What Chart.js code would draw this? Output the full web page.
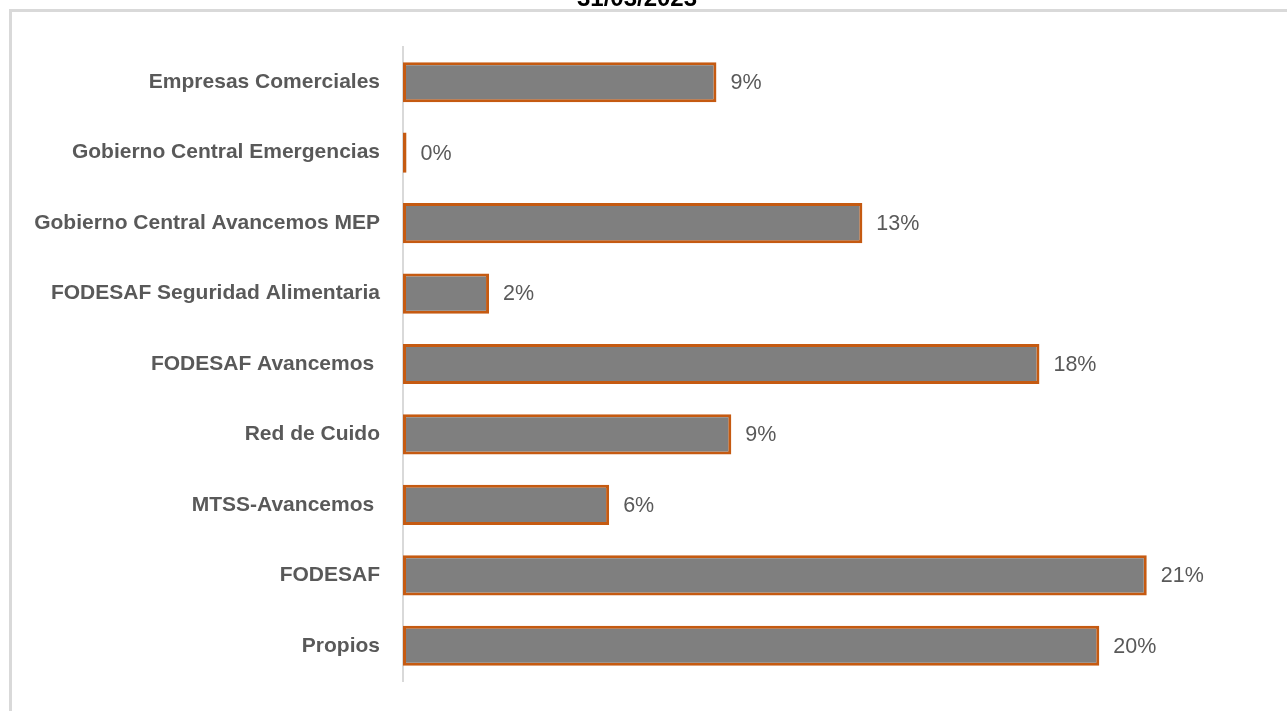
<!DOCTYPE html>
<html>
<head>
<meta charset="utf-8">
<script src="https://cdn.jsdelivr.net/npm/chart.js@4"></script>
<style>
html,body{margin:0;padding:0;background:#fff;overflow:hidden}
#wrap{width:1287px;height:711px;position:relative}
</style>
</head>
<body>
<div id="wrap"><canvas id="c"></canvas></div>
<script>
const titleText = '31/03/2023';
const categories = [
  'Empresas Comerciales',
  'Gobierno Central Emergencias',
  'Gobierno Central Avancemos MEP',
  'FODESAF Seguridad Alimentaria',
  'FODESAF Avancemos ',
  'Red de Cuido',
  'MTSS-Avancemos ',
  'FODESAF',
  'Propios'
];
const values = [8.85, 0.1, 12.97, 2.43, 17.97, 9.27, 5.82, 21.0, 19.66];
const valueLabels = ['9%', '0%', '13%', '2%', '18%', '9%', '6%', '21%', '20%'];
const axisMax = 24;

const LABEL_FONT = '"Liberation Sans", Arial, sans-serif';

const framePlugin = {
  id: 'frame',
  beforeDraw(chart) {
    const ctx = chart.ctx;
    ctx.save();
    ctx.fillStyle = '#fff';
    ctx.fillRect(0, 0, chart.width, chart.height);
    ctx.strokeStyle = '#D9D9D9';
    ctx.lineWidth = 3;
    ctx.beginPath();
    ctx.moveTo(10.5, chart.height);
    ctx.lineTo(10.5, 10.5);
    ctx.lineTo(chart.width, 10.5);
    ctx.stroke();
    ctx.fillStyle = '#000';
    ctx.font = 'bold 24px "Liberation Sans", Arial, sans-serif';
    ctx.textAlign = 'center';
    ctx.textBaseline = 'alphabetic';
    ctx.fillText(titleText, 637, 6);
    ctx.restore();
  }
};

const valueLabelPlugin = {
  id: 'valueLabels',
  afterDatasetsDraw(chart) {
    const ctx = chart.ctx;
    const meta = chart.getDatasetMeta(0);
    ctx.save();
    ctx.fillStyle = '#595959';
    ctx.font = '21.5px ' + LABEL_FONT;
    ctx.textAlign = 'left';
    ctx.textBaseline = 'middle';
    meta.data.forEach((el, i) => {
      ctx.fillText(valueLabels[i], el.x + 14, el.y + 1);
    });
    ctx.restore();
  }
};

new Chart(document.getElementById('c'), {
  type: 'bar',
  data: {
    labels: categories,
    datasets: [{
      data: values,
      backgroundColor: '#7F7F7F',
      borderColor: '#C55A11',
      borderWidth: 3,
      borderSkipped: false,
      barPercentage: 0.57,
      categoryPercentage: 1
    }]
  },
  options: {
    indexAxis: 'y',
    responsive: true,
    maintainAspectRatio: false,
    animation: false,
    layout: { padding: { top: 47, bottom: 30, right: 34, left: 0 } },
    plugins: { legend: { display: false }, tooltip: { enabled: false }, title: { display: false } },
    scales: {
      x: { display: false, min: 0, max: axisMax },
      y: {
        afterFit(s) { s.width = 403; s.paddingTop = 0; s.paddingBottom = 0; },
        grid: { display: true, drawOnChartArea: false, drawTicks: false },
        border: { display: true, color: '#D9D9D9', width: 2 },
        ticks: {
          padding: 23,
          color: '#595959',
          font: { family: LABEL_FONT, size: 21, weight: 'bold' }
        }
      }
    }
  },
  plugins: [framePlugin, valueLabelPlugin]
});
</script>
</body>
</html>
